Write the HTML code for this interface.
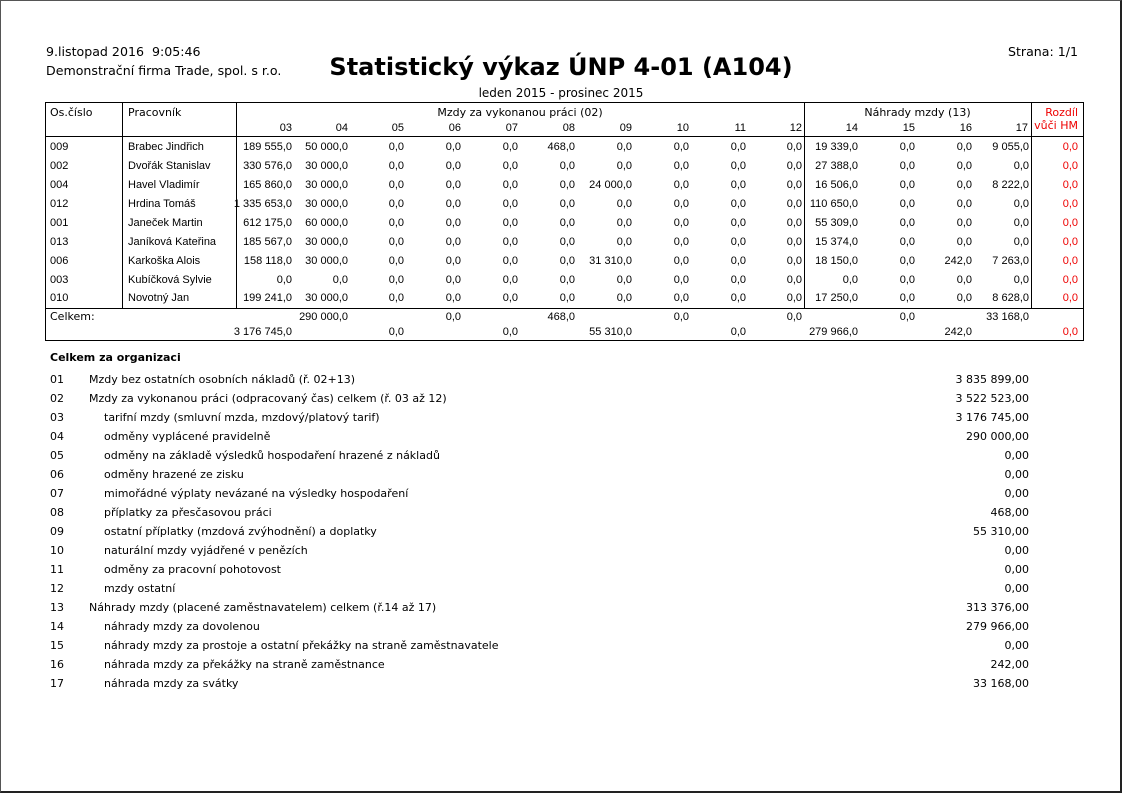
<!DOCTYPE html>
<html><head><meta charset="utf-8"><style>
body{margin:0;width:1122px;height:793px;background:#fff;overflow:hidden;font-family:"Liberation Sans","DejaVu Sans",sans-serif;font-size:11px;color:#000}
.pg{position:absolute;left:0;top:0;width:1119px;height:790px;border:1px solid #555;border-right:2px solid #222;border-bottom:2px solid #222}
.t{position:absolute;line-height:14px;white-space:nowrap}
.d{font-family:"DejaVu Sans",sans-serif}
.r{position:absolute;height:14px;left:0;width:1122px}
.r span{position:absolute;line-height:14px;white-space:nowrap;text-align:right}
.r .o{left:50px;text-align:left}.r .p{left:128px;text-align:left}
.c1{right:830px}.c2{right:774px}.c3{right:718px}.c4{right:661px}.c5{right:604px}.c6{right:547px}.c7{right:490px}.c8{right:433px}.c9{right:376px}.c10{right:320px}.c11{right:264px}.c12{right:207px}.c13{right:150px}.c14{right:93px}.c15{right:44px;color:#e00}
.hl{position:absolute;background:#000;height:1px}
.vl{position:absolute;background:#000;width:1px}
.b{font-family:"DejaVu Sans",sans-serif}
.b .n{left:50px}.b .l{left:89px}.b .i{left:104px}.b .v{right:93px}
</style></head><body>
<div class="pg"></div>
<div class="t d" style="left:46px;top:45px;font-size:12.6px">9.listopad 2016&nbsp; 9:05:46</div>
<div class="t d" style="left:46px;top:64px;font-size:12.6px">Demonstrační firma Trade, spol. s r.o.</div>
<div class="t d" style="right:44px;top:45px;font-size:12.6px">Strana: 1/1</div>
<div class="t d" style="left:0;width:1122px;text-align:center;top:52px;font-size:24px;line-height:30px;font-weight:bold">Statistický výkaz ÚNP 4-01 (A104)</div>
<div class="t d" style="left:0;width:1122px;text-align:center;top:86px;font-size:12px">leden 2015 - prosinec 2015</div>

<div class="hl" style="left:45px;top:102px;width:1039px"></div>
<div class="hl" style="left:45px;top:136px;width:1039px"></div>
<div class="hl" style="left:45px;top:308px;width:1039px"></div>
<div class="hl" style="left:45px;top:340px;width:1039px"></div>
<div class="vl" style="left:45px;top:102px;height:239px"></div>
<div class="vl" style="left:1083px;top:102px;height:239px"></div>
<div class="vl" style="left:122px;top:102px;height:206px"></div>
<div class="vl" style="left:236px;top:102px;height:206px"></div>
<div class="vl" style="left:804px;top:102px;height:206px"></div>
<div class="vl" style="left:1031px;top:102px;height:206px"></div>

<div class="t d" style="left:50px;top:106px">Os.číslo</div>
<div class="t d" style="left:128px;top:106px">Pracovník</div>
<div class="t d" style="left:236px;width:568px;text-align:center;top:106px">Mzdy za vykonanou práci (02)</div>
<div class="t d" style="left:804px;width:227px;text-align:center;top:106px">Náhrady mzdy (13)</div>
<div class="t d" style="right:44px;top:106px;color:#e00">Rozdíl</div>
<div class="t d" style="right:44px;top:119px;color:#e00">vůči HM</div>
<div class="r" style="top:121px"><span class="c1">03</span><span class="c2">04</span><span class="c3">05</span><span class="c4">06</span><span class="c5">07</span><span class="c6">08</span><span class="c7">09</span><span class="c8">10</span><span class="c9">11</span><span class="c10">12</span><span class="c11">14</span><span class="c12">15</span><span class="c13">16</span><span class="c14" style="right:94px">17</span></div>

<div class="r" style="top:140px"><span class="o">009</span><span class="p">Brabec Jindřich</span><span class="c1">189 555,0</span><span class="c2">50 000,0</span><span class="c3">0,0</span><span class="c4">0,0</span><span class="c5">0,0</span><span class="c6">468,0</span><span class="c7">0,0</span><span class="c8">0,0</span><span class="c9">0,0</span><span class="c10">0,0</span><span class="c11">19 339,0</span><span class="c12">0,0</span><span class="c13">0,0</span><span class="c14">9 055,0</span><span class="c15">0,0</span></div>
<div class="r" style="top:159px"><span class="o">002</span><span class="p">Dvořák Stanislav</span><span class="c1">330 576,0</span><span class="c2">30 000,0</span><span class="c3">0,0</span><span class="c4">0,0</span><span class="c5">0,0</span><span class="c6">0,0</span><span class="c7">0,0</span><span class="c8">0,0</span><span class="c9">0,0</span><span class="c10">0,0</span><span class="c11">27 388,0</span><span class="c12">0,0</span><span class="c13">0,0</span><span class="c14">0,0</span><span class="c15">0,0</span></div>
<div class="r" style="top:178px"><span class="o">004</span><span class="p">Havel Vladimír</span><span class="c1">165 860,0</span><span class="c2">30 000,0</span><span class="c3">0,0</span><span class="c4">0,0</span><span class="c5">0,0</span><span class="c6">0,0</span><span class="c7">24 000,0</span><span class="c8">0,0</span><span class="c9">0,0</span><span class="c10">0,0</span><span class="c11">16 506,0</span><span class="c12">0,0</span><span class="c13">0,0</span><span class="c14">8 222,0</span><span class="c15">0,0</span></div>
<div class="r" style="top:197px"><span class="o">012</span><span class="p">Hrdina Tomáš</span><span class="c1">1 335 653,0</span><span class="c2">30 000,0</span><span class="c3">0,0</span><span class="c4">0,0</span><span class="c5">0,0</span><span class="c6">0,0</span><span class="c7">0,0</span><span class="c8">0,0</span><span class="c9">0,0</span><span class="c10">0,0</span><span class="c11">110 650,0</span><span class="c12">0,0</span><span class="c13">0,0</span><span class="c14">0,0</span><span class="c15">0,0</span></div>
<div class="r" style="top:216px"><span class="o">001</span><span class="p">Janeček Martin</span><span class="c1">612 175,0</span><span class="c2">60 000,0</span><span class="c3">0,0</span><span class="c4">0,0</span><span class="c5">0,0</span><span class="c6">0,0</span><span class="c7">0,0</span><span class="c8">0,0</span><span class="c9">0,0</span><span class="c10">0,0</span><span class="c11">55 309,0</span><span class="c12">0,0</span><span class="c13">0,0</span><span class="c14">0,0</span><span class="c15">0,0</span></div>
<div class="r" style="top:235px"><span class="o">013</span><span class="p">Janíková Kateřina</span><span class="c1">185 567,0</span><span class="c2">30 000,0</span><span class="c3">0,0</span><span class="c4">0,0</span><span class="c5">0,0</span><span class="c6">0,0</span><span class="c7">0,0</span><span class="c8">0,0</span><span class="c9">0,0</span><span class="c10">0,0</span><span class="c11">15 374,0</span><span class="c12">0,0</span><span class="c13">0,0</span><span class="c14">0,0</span><span class="c15">0,0</span></div>
<div class="r" style="top:254px"><span class="o">006</span><span class="p">Karkoška Alois</span><span class="c1">158 118,0</span><span class="c2">30 000,0</span><span class="c3">0,0</span><span class="c4">0,0</span><span class="c5">0,0</span><span class="c6">0,0</span><span class="c7">31 310,0</span><span class="c8">0,0</span><span class="c9">0,0</span><span class="c10">0,0</span><span class="c11">18 150,0</span><span class="c12">0,0</span><span class="c13">242,0</span><span class="c14">7 263,0</span><span class="c15">0,0</span></div>
<div class="r" style="top:273px"><span class="o">003</span><span class="p">Kubíčková Sylvie</span><span class="c1">0,0</span><span class="c2">0,0</span><span class="c3">0,0</span><span class="c4">0,0</span><span class="c5">0,0</span><span class="c6">0,0</span><span class="c7">0,0</span><span class="c8">0,0</span><span class="c9">0,0</span><span class="c10">0,0</span><span class="c11">0,0</span><span class="c12">0,0</span><span class="c13">0,0</span><span class="c14">0,0</span><span class="c15">0,0</span></div>
<div class="r" style="top:291px"><span class="o">010</span><span class="p">Novotný Jan</span><span class="c1">199 241,0</span><span class="c2">30 000,0</span><span class="c3">0,0</span><span class="c4">0,0</span><span class="c5">0,0</span><span class="c6">0,0</span><span class="c7">0,0</span><span class="c8">0,0</span><span class="c9">0,0</span><span class="c10">0,0</span><span class="c11">17 250,0</span><span class="c12">0,0</span><span class="c13">0,0</span><span class="c14">8 628,0</span><span class="c15">0,0</span></div>

<div class="r" style="top:310px"><span class="o d" style="left:50px">Celkem:</span><span class="c2">290 000,0</span><span class="c4">0,0</span><span class="c6">468,0</span><span class="c8">0,0</span><span class="c10">0,0</span><span class="c12">0,0</span><span class="c14">33 168,0</span></div>
<div class="r" style="top:325px"><span class="c1">3 176 745,0</span><span class="c3">0,0</span><span class="c5">0,0</span><span class="c7">55 310,0</span><span class="c9">0,0</span><span class="c11">279 966,0</span><span class="c13">242,0</span><span class="c15">0,0</span></div>

<div class="t d" style="left:50px;top:351px;font-weight:bold">Celkem za organizaci</div>
<div class="r b" style="top:373px"><span class="n">01</span><span class="l">Mzdy bez ostatních osobních nákladů (ř. 02+13)</span><span class="v">3 835 899,00</span></div>
<div class="r b" style="top:392px"><span class="n">02</span><span class="l">Mzdy za vykonanou práci (odpracovaný čas) celkem (ř. 03 až 12)</span><span class="v">3 522 523,00</span></div>
<div class="r b" style="top:411px"><span class="n">03</span><span class="i">tarifní mzdy (smluvní mzda, mzdový/platový tarif)</span><span class="v">3 176 745,00</span></div>
<div class="r b" style="top:430px"><span class="n">04</span><span class="i">odměny vyplácené pravidelně</span><span class="v">290 000,00</span></div>
<div class="r b" style="top:449px"><span class="n">05</span><span class="i">odměny na základě výsledků hospodaření hrazené z nákladů</span><span class="v">0,00</span></div>
<div class="r b" style="top:468px"><span class="n">06</span><span class="i">odměny hrazené ze zisku</span><span class="v">0,00</span></div>
<div class="r b" style="top:487px"><span class="n">07</span><span class="i">mimořádné výplaty nevázané na výsledky hospodaření</span><span class="v">0,00</span></div>
<div class="r b" style="top:506px"><span class="n">08</span><span class="i">příplatky za přesčasovou práci</span><span class="v">468,00</span></div>
<div class="r b" style="top:525px"><span class="n">09</span><span class="i">ostatní příplatky (mzdová zvýhodnění) a doplatky</span><span class="v">55 310,00</span></div>
<div class="r b" style="top:544px"><span class="n">10</span><span class="i">naturální mzdy vyjádřené v penězích</span><span class="v">0,00</span></div>
<div class="r b" style="top:563px"><span class="n">11</span><span class="i">odměny za pracovní pohotovost</span><span class="v">0,00</span></div>
<div class="r b" style="top:582px"><span class="n">12</span><span class="i">mzdy ostatní</span><span class="v">0,00</span></div>
<div class="r b" style="top:601px"><span class="n">13</span><span class="l">Náhrady mzdy (placené zaměstnavatelem) celkem (ř.14 až 17)</span><span class="v">313 376,00</span></div>
<div class="r b" style="top:620px"><span class="n">14</span><span class="i">náhrady mzdy za dovolenou</span><span class="v">279 966,00</span></div>
<div class="r b" style="top:639px"><span class="n">15</span><span class="i">náhrady mzdy za prostoje a ostatní překážky na straně zaměstnavatele</span><span class="v">0,00</span></div>
<div class="r b" style="top:658px"><span class="n">16</span><span class="i">náhrada mzdy za překážky na straně zaměstnance</span><span class="v">242,00</span></div>
<div class="r b" style="top:677px"><span class="n">17</span><span class="i">náhrada mzdy za svátky</span><span class="v">33 168,00</span></div>
</body></html>
